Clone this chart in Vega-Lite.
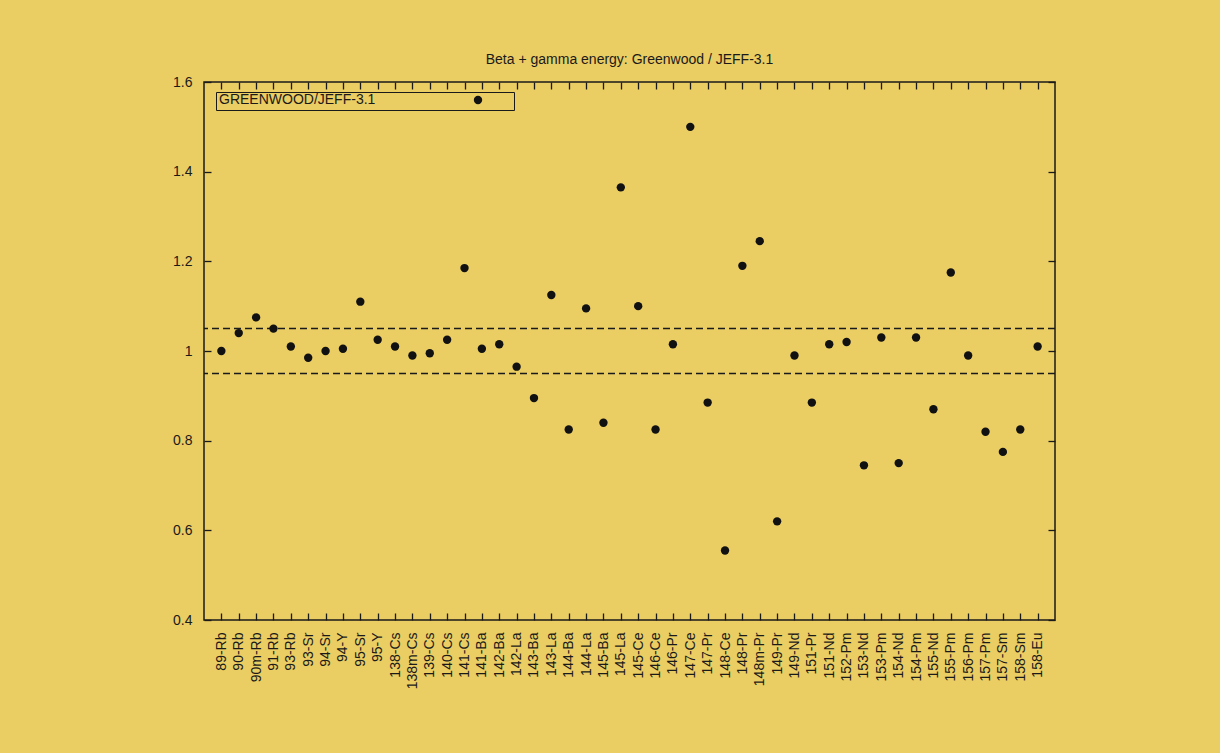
{
  "$schema": "https://vega.github.io/schema/vega-lite/v6.json",
  "width": 851,
  "height": 538,
  "autosize": {"type": "none"},
  "padding": {"left": 204, "top": 82, "right": 165, "bottom": 133},
  "background": "#EACD63",
  "title": {
    "text": "Beta + gamma energy: Greenwood / JEFF-3.1",
    "font": "Liberation Sans",
    "fontSize": 14,
    "fontWeight": "normal",
    "color": "#1a1a1a",
    "anchor": "middle",
    "offset": 8
  },
  "config": {
    "view": {"stroke": "#1a1a1a", "strokeWidth": 1.5, "fill": null},
    "axis": {
      "labelFont": "Liberation Sans",
      "labelFontSize": 14,
      "labelColor": "#1a1a1a",
      "tickColor": "#1a1a1a",
      "tickWidth": 1.3,
      "domain": false,
      "grid": false
    }
  },
  "data": {
    "values": [
      {"nuclide": "89-Rb", "ratio": 1.00, "series": "GREENWOOD/JEFF-3.1"},
      {"nuclide": "90-Rb", "ratio": 1.04, "series": "GREENWOOD/JEFF-3.1"},
      {"nuclide": "90m-Rb", "ratio": 1.075, "series": "GREENWOOD/JEFF-3.1"},
      {"nuclide": "91-Rb", "ratio": 1.05, "series": "GREENWOOD/JEFF-3.1"},
      {"nuclide": "93-Rb", "ratio": 1.01, "series": "GREENWOOD/JEFF-3.1"},
      {"nuclide": "93-Sr", "ratio": 0.985, "series": "GREENWOOD/JEFF-3.1"},
      {"nuclide": "94-Sr", "ratio": 1.00, "series": "GREENWOOD/JEFF-3.1"},
      {"nuclide": "94-Y", "ratio": 1.005, "series": "GREENWOOD/JEFF-3.1"},
      {"nuclide": "95-Sr", "ratio": 1.11, "series": "GREENWOOD/JEFF-3.1"},
      {"nuclide": "95-Y", "ratio": 1.025, "series": "GREENWOOD/JEFF-3.1"},
      {"nuclide": "138-Cs", "ratio": 1.01, "series": "GREENWOOD/JEFF-3.1"},
      {"nuclide": "138m-Cs", "ratio": 0.99, "series": "GREENWOOD/JEFF-3.1"},
      {"nuclide": "139-Cs", "ratio": 0.995, "series": "GREENWOOD/JEFF-3.1"},
      {"nuclide": "140-Cs", "ratio": 1.025, "series": "GREENWOOD/JEFF-3.1"},
      {"nuclide": "141-Cs", "ratio": 1.185, "series": "GREENWOOD/JEFF-3.1"},
      {"nuclide": "141-Ba", "ratio": 1.005, "series": "GREENWOOD/JEFF-3.1"},
      {"nuclide": "142-Ba", "ratio": 1.015, "series": "GREENWOOD/JEFF-3.1"},
      {"nuclide": "142-La", "ratio": 0.965, "series": "GREENWOOD/JEFF-3.1"},
      {"nuclide": "143-Ba", "ratio": 0.895, "series": "GREENWOOD/JEFF-3.1"},
      {"nuclide": "143-La", "ratio": 1.125, "series": "GREENWOOD/JEFF-3.1"},
      {"nuclide": "144-Ba", "ratio": 0.825, "series": "GREENWOOD/JEFF-3.1"},
      {"nuclide": "144-La", "ratio": 1.095, "series": "GREENWOOD/JEFF-3.1"},
      {"nuclide": "145-Ba", "ratio": 0.84, "series": "GREENWOOD/JEFF-3.1"},
      {"nuclide": "145-La", "ratio": 1.365, "series": "GREENWOOD/JEFF-3.1"},
      {"nuclide": "145-Ce", "ratio": 1.10, "series": "GREENWOOD/JEFF-3.1"},
      {"nuclide": "146-Ce", "ratio": 0.825, "series": "GREENWOOD/JEFF-3.1"},
      {"nuclide": "146-Pr", "ratio": 1.015, "series": "GREENWOOD/JEFF-3.1"},
      {"nuclide": "147-Ce", "ratio": 1.50, "series": "GREENWOOD/JEFF-3.1"},
      {"nuclide": "147-Pr", "ratio": 0.885, "series": "GREENWOOD/JEFF-3.1"},
      {"nuclide": "148-Ce", "ratio": 0.555, "series": "GREENWOOD/JEFF-3.1"},
      {"nuclide": "148-Pr", "ratio": 1.19, "series": "GREENWOOD/JEFF-3.1"},
      {"nuclide": "148m-Pr", "ratio": 1.245, "series": "GREENWOOD/JEFF-3.1"},
      {"nuclide": "149-Pr", "ratio": 0.62, "series": "GREENWOOD/JEFF-3.1"},
      {"nuclide": "149-Nd", "ratio": 0.99, "series": "GREENWOOD/JEFF-3.1"},
      {"nuclide": "151-Pr", "ratio": 0.885, "series": "GREENWOOD/JEFF-3.1"},
      {"nuclide": "151-Nd", "ratio": 1.015, "series": "GREENWOOD/JEFF-3.1"},
      {"nuclide": "152-Pm", "ratio": 1.02, "series": "GREENWOOD/JEFF-3.1"},
      {"nuclide": "153-Nd", "ratio": 0.745, "series": "GREENWOOD/JEFF-3.1"},
      {"nuclide": "153-Pm", "ratio": 1.03, "series": "GREENWOOD/JEFF-3.1"},
      {"nuclide": "154-Nd", "ratio": 0.75, "series": "GREENWOOD/JEFF-3.1"},
      {"nuclide": "154-Pm", "ratio": 1.03, "series": "GREENWOOD/JEFF-3.1"},
      {"nuclide": "155-Nd", "ratio": 0.87, "series": "GREENWOOD/JEFF-3.1"},
      {"nuclide": "155-Pm", "ratio": 1.175, "series": "GREENWOOD/JEFF-3.1"},
      {"nuclide": "156-Pm", "ratio": 0.99, "series": "GREENWOOD/JEFF-3.1"},
      {"nuclide": "157-Pm", "ratio": 0.82, "series": "GREENWOOD/JEFF-3.1"},
      {"nuclide": "157-Sm", "ratio": 0.775, "series": "GREENWOOD/JEFF-3.1"},
      {"nuclide": "158-Sm", "ratio": 0.825, "series": "GREENWOOD/JEFF-3.1"},
      {"nuclide": "158-Eu", "ratio": 1.01, "series": "GREENWOOD/JEFF-3.1"}
    ]
  },
  "layer": [
    {
      "data": {"values": [{"ref": 1.05}, {"ref": 0.95}]},
      "mark": {"type": "rule", "color": "#1a1a1a", "strokeWidth": 1.5, "strokeDash": [7, 4]},
      "encoding": {"y": {"field": "ref", "type": "quantitative", "scale": {"domain": [0.4, 1.6]}, "axis": null}}
    },
    {
      "mark": {"type": "point", "filled": true, "shape": "circle", "size": 70, "opacity": 1},
      "encoding": {
        "x": {
          "field": "nuclide", "type": "nominal", "sort": null,
          "scale": {"type": "point", "padding": 1},
          "axis": {"orient": "bottom", "title": null, "labelAngle": 270, "tickSize": -7, "labelPadding": 19, "labelAlign": "right", "labelBaseline": "middle"}
        },
        "y": {
          "field": "ratio", "type": "quantitative",
          "scale": {"domain": [0.4, 1.6], "nice": false, "zero": false},
          "axis": {"orient": "left", "title": null, "values": [0.4, 0.6, 0.8, 1, 1.2, 1.4, 1.6], "format": "~g", "tickSize": -7, "labelPadding": 19}
        },
        "color": {
          "field": "series", "type": "nominal",
          "scale": {"range": ["#111111"]},
          "legend": {
            "orient": "none", "legendX": 12, "legendY": 10,
            "title": "GREENWOOD/JEFF-3.1", "titleOrient": "left",
            "titleFont": "Liberation Sans", "titleFontSize": 14, "titleFontWeight": "normal", "titleColor": "#1a1a1a",
            "titlePadding": 97, "titleBaseline": "middle",
            "labelExpr": "''", "labelOffset": 28,
            "symbolType": "circle", "symbolSize": 70, "symbolStrokeWidth": 0,
            "strokeColor": "#1a1a1a", "padding": 3, "rowPadding": 0
          }
        }
      }
    },
    {
      "mark": {"type": "point", "opacity": 0},
      "encoding": {
        "x": {
          "field": "nuclide", "type": "nominal", "sort": null,
          "axis": {"orient": "top", "title": null, "labels": false, "tickSize": -7}
        },
        "y": {
          "field": "ratio", "type": "quantitative",
          "axis": {"orient": "right", "title": null, "labels": false, "values": [0.4, 0.6, 0.8, 1, 1.2, 1.4, 1.6], "tickSize": -7}
        }
      }
    }
  ],
  "resolve": {"axis": {"x": "independent", "y": "independent"}}
}
